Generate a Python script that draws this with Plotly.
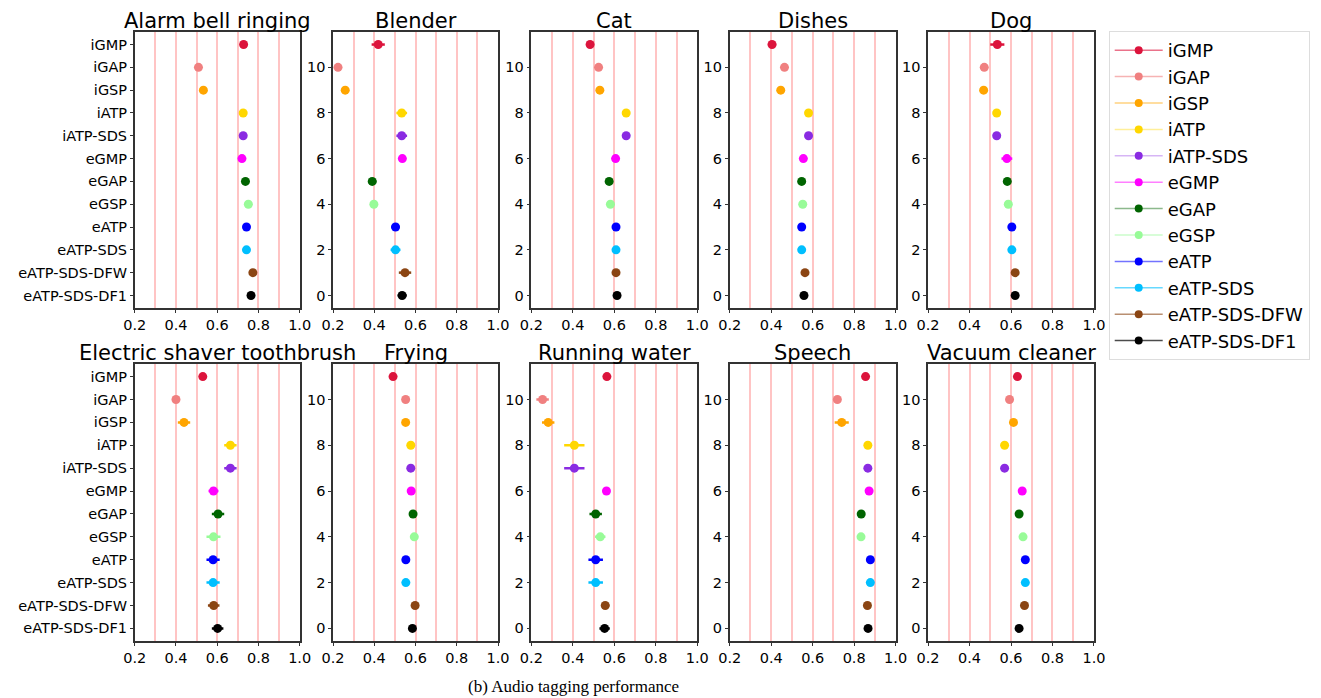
import plotly.graph_objects as go

W, H = 1321, 698

methods = ["iGMP", "iGAP", "iGSP", "iATP", "iATP-SDS", "eGMP", "eGAP", "eGSP",
           "eATP", "eATP-SDS", "eATP-SDS-DFW", "eATP-SDS-DF1"]
colors = ["#DC143C", "#F08080", "#FFA500", "#FFD700", "#8A2BE2", "#FF00FF",
          "#006400", "#98FB98", "#0000FF", "#00BFFF", "#8B4513", "#000000"]
legend_line_colors = ["rgba(220,20,60,0.6)", "rgba(240,128,128,0.6)", "rgba(255,165,0,0.5)",
                      "rgba(255,215,0,0.4)", "rgba(138,43,226,0.35)", "rgba(255,0,255,0.5)",
                      "rgba(0,100,0,0.45)", "rgba(152,251,152,0.5)", "rgba(0,0,255,0.55)",
                      "rgba(0,191,255,0.6)", "rgba(139,69,19,0.6)", "rgba(0,0,0,0.7)"]

categories = ["Alarm bell ringing", "Blender", "Cat", "Dishes", "Dog",
              "Electric shaver toothbrush", "Frying", "Running water", "Speech", "Vacuum cleaner"]

# values listed in method order (iGMP ... eATP-SDS-DF1)
alarm_vals = [0.728, 0.509, 0.533, 0.726, 0.726, 0.720, 0.737, 0.751, 0.742, 0.742, 0.773, 0.764]
alarm_err = [0.008, 0.004, 0.006, 0.006, 0.006, 0.008, 0.006, 0.006, 0.006, 0.006, 0.008, 0.006]
blender_vals = [0.419, 0.224, 0.259, 0.533, 0.533, 0.536, 0.390, 0.398, 0.503, 0.503, 0.549, 0.535]
blender_err = [0.032, 0.006, 0.006, 0.026, 0.026, 0.012, 0.020, 0.018, 0.020, 0.024, 0.030, 0.022]
cat_vals = [0.483, 0.524, 0.530, 0.657, 0.657, 0.606, 0.575, 0.581, 0.608, 0.608, 0.608, 0.613]
cat_err = [0.018, 0.006, 0.008, 0.006, 0.006, 0.008, 0.006, 0.006, 0.006, 0.006, 0.006, 0.006]
dishes_vals = [0.404, 0.464, 0.446, 0.580, 0.580, 0.555, 0.547, 0.552, 0.547, 0.547, 0.563, 0.558]
dishes_err = [0.020, 0.006, 0.006, 0.006, 0.006, 0.012, 0.006, 0.006, 0.006, 0.006, 0.006, 0.006]
dog_vals = [0.534, 0.471, 0.468, 0.531, 0.531, 0.580, 0.582, 0.587, 0.604, 0.604, 0.620, 0.620]
dog_err = [0.034, 0.006, 0.006, 0.006, 0.006, 0.026, 0.006, 0.006, 0.006, 0.006, 0.006, 0.006]
shaver_vals = [0.530, 0.400, 0.439, 0.664, 0.664, 0.582, 0.604, 0.582, 0.580, 0.580, 0.583, 0.602]
shaver_err = [0.008, 0.006, 0.030, 0.030, 0.030, 0.024, 0.030, 0.034, 0.032, 0.032, 0.028, 0.028]
frying_vals = [0.491, 0.552, 0.552, 0.577, 0.577, 0.579, 0.588, 0.594, 0.553, 0.553, 0.598, 0.585]
frying_err = [0.008, 0.006, 0.006, 0.006, 0.006, 0.006, 0.006, 0.006, 0.006, 0.006, 0.018, 0.008]
water_vals = [0.564, 0.254, 0.281, 0.407, 0.407, 0.562, 0.510, 0.532, 0.510, 0.510, 0.556, 0.553]
water_err = [0.008, 0.030, 0.030, 0.049, 0.049, 0.008, 0.030, 0.025, 0.035, 0.035, 0.020, 0.025]
speech_vals = [0.855, 0.719, 0.740, 0.866, 0.866, 0.872, 0.834, 0.833, 0.878, 0.878, 0.864, 0.867]
speech_err = [0.008, 0.006, 0.034, 0.006, 0.006, 0.006, 0.006, 0.006, 0.006, 0.006, 0.006, 0.006]
vacuum_vals = [0.631, 0.593, 0.612, 0.569, 0.569, 0.654, 0.639, 0.658, 0.669, 0.669, 0.665, 0.639]
vacuum_err = [0.014, 0.006, 0.008, 0.014, 0.014, 0.006, 0.014, 0.006, 0.006, 0.006, 0.006, 0.008]

all_vals = [alarm_vals, blender_vals, cat_vals, dishes_vals, dog_vals,
            shaver_vals, frying_vals, water_vals, speech_vals, vacuum_vals]
all_err = [alarm_err, blender_err, cat_err, dishes_err, dog_err,
           shaver_err, frying_err, water_err, speech_err, vacuum_err]

y_positions = list(range(len(methods) - 1, -1, -1))  # iGMP at 11 ... DF1 at 0
x_ticks = [0.2, 0.4, 0.6, 0.8, 1.0]
x_tick_text = ["0.2", "0.4", "0.6", "0.8", "1.0"]
y_num_ticks = [0, 2, 4, 6, 8, 10]

# layout geometry in pixels
col_px = [(125, 293), (327, 495), (529, 698), (731, 900), (933, 1102)]
row_px = [(32, 308), (364, 641)]

fig = go.Figure()
layout = dict(
    width=W, height=H, margin=dict(l=0, r=0, t=0, b=0),
    paper_bgcolor="white", plot_bgcolor="white",
    font=dict(family="DejaVu Sans", size=14, color="black"),
    showlegend=True,
)
annotations = []
tick_font = dict(family="DejaVu Sans", size=14.5, color="black")
grid_col = "#ffc4c4"

for k, cat in enumerate(categories):
    r, c = divmod(k, 5)
    xs = "" if k == 0 else str(k + 1)
    xa, ya = "xaxis" + xs, "yaxis" + xs
    x0, x1 = col_px[c]
    top, bot = row_px[r]
    layout[xa] = dict(
        domain=[x0 / W, x1 / W], anchor="y" + xs, range=[0.2, 1.0],
        tickvals=x_ticks, ticktext=x_tick_text, tickfont=tick_font,
        showgrid=True, gridcolor=grid_col, gridwidth=1.5,
        minor=dict(dtick=0.1, tick0=0.2, showgrid=True, gridcolor=grid_col, gridwidth=1.5),
        showline=True, linecolor="#333333", linewidth=1.5, mirror=True,
        ticks="outside", ticklen=3, tickcolor="#333333", zeroline=False,
    )
    ydef = dict(
        domain=[1 - bot / H, 1 - top / H], anchor="x" + xs, range=[-0.55, 11.55],
        showgrid=False, zeroline=False, tickfont=tick_font,
        showline=True, linecolor="#333333", linewidth=1.5, mirror=True,
        ticks="outside", ticklen=3, tickcolor="#333333",
    )
    if c == 0:
        ydef["tickvals"] = y_positions
        ydef["ticktext"] = methods
    else:
        ydef["tickvals"] = y_num_ticks
        ydef["ticktext"] = [str(v) for v in y_num_ticks]
    layout[ya] = ydef
    annotations.append(dict(
        text=cat, x=(x0 + x1) / 2 / W, y=1 - top / H, xref="paper", yref="paper",
        xanchor="center", yanchor="bottom", yshift=-3, showarrow=False,
        font=dict(family="DejaVu Sans", size=21, color="black"),
    ))
    vals, errs = all_vals[k], all_err[k]
    for i, m in enumerate(methods):
        fig.add_trace(go.Scatter(
            x=[vals[i]], y=[y_positions[i]], mode="markers",
            marker=dict(color=colors[i], size=9),
            error_x=dict(type="data", array=[errs[i]], color=colors[i], thickness=2.5, width=0),
            xaxis="x" + xs, yaxis="y" + xs, showlegend=False, hoverinfo="x+name", name=m,
        ))

# legend entries
for i, m in enumerate(methods):
    fig.add_trace(go.Scatter(
        x=[None], y=[None], mode="lines+markers", name=m,
        line=dict(color=legend_line_colors[i], width=1.5),
        marker=dict(color=colors[i], size=8),
        xaxis="x", yaxis="y", showlegend=True,
    ))

annotations.append(dict(
    text="(b) Audio tagging performance", x=572 / W, y=1 - 686 / H, xref="paper", yref="paper",
    xanchor="center", yanchor="middle", showarrow=False,
    font=dict(family="Liberation Serif", size=17, color="black"),
))

layout["annotations"] = annotations
layout["legend"] = dict(
    x=1117 / W, y=1 - 31 / H, xanchor="left", yanchor="top",
    bgcolor="white", bordercolor="#dddddd", borderwidth=1,
    font=dict(family="DejaVu Sans", size=18, color="black"),
    itemwidth=48, tracegroupgap=0,
)
fig.update_layout(**layout)
fig.write_html("out.html")
